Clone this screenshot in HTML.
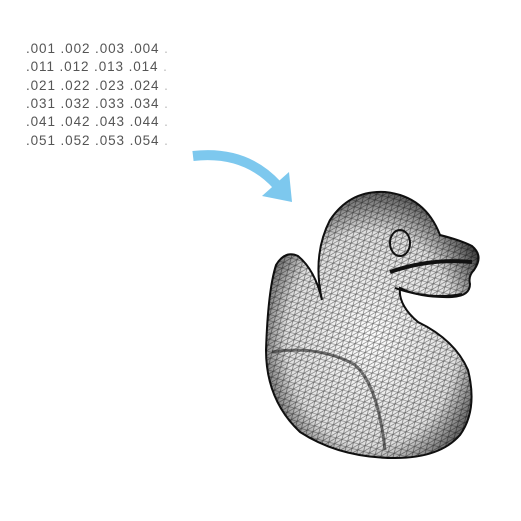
<!DOCTYPE html>
<html><head><meta charset="utf-8"><style>
body{margin:0;background:#fff;width:521px;height:521px;overflow:hidden;position:relative;font-family:"Liberation Sans",sans-serif}
.t{position:absolute;left:26px;font-size:13.5px;color:#555;letter-spacing:0.9px;white-space:pre}
</style></head><body>
<div>
<div class="t" style="top:41px">.001 .002 .003 .004 <span style="color:#bbb">.</span></div>
<div class="t" style="top:59px">.011 .012 .013 .014 <span style="color:#bbb">.</span></div>
<div class="t" style="top:78px">.021 .022 .023 .024 <span style="color:#bbb">.</span></div>
<div class="t" style="top:96px">.031 .032 .033 .034 <span style="color:#bbb">.</span></div>
<div class="t" style="top:114px">.041 .042 .043 .044 <span style="color:#bbb">.</span></div>
<div class="t" style="top:133px">.051 .052 .053 .054 <span style="color:#bbb">.</span></div>
</div>
<svg width="521" height="521" style="position:absolute;left:0;top:0">
<defs>
<pattern id="mesh" width="6" height="6" patternUnits="userSpaceOnUse" patternTransform="rotate(15)">
<path d="M0 0H6V6H0Z M0 6L6 0" fill="none" stroke="#000" stroke-width="0.6"/>
</pattern>
<radialGradient id="shade" cx="0.5" cy="0.55" r="0.62">
<stop offset="0" stop-color="#fff"/><stop offset="0.65" stop-color="#e0e0e0"/><stop offset="1" stop-color="#222"/>
</radialGradient>
<path id="duckp" d="M322 300 Q312 255 330 220 Q350 190 385 192 Q425 196 440 235 Q460 240 472 246 Q484 256 474 270 Q468 276 470 284 Q470 296 452 297 Q420 298 400 288 Q398 305 418 322 Q455 340 468 370 Q478 410 460 435 Q440 458 395 458 Q340 458 300 432 Q266 400 266 350 Q268 290 276 265 Q285 250 298 256 Q315 270 322 300 Z"/>
</defs>
<g>
<path d="M193 156 Q245 150 277 185" fill="none" stroke="#7dc8ee" stroke-width="10"/>
<polygon points="262,196 292,202 289,172" fill="#7dc8ee"/>
</g>
<g>
<use href="#duckp" fill="url(#shade)" stroke="#111" stroke-width="2"/>
<use href="#duckp" fill="url(#mesh)" opacity="0.6"/>
<ellipse cx="400" cy="243" rx="10" ry="13" fill="none" stroke="#111" stroke-width="2"/>
<path d="M390 272 Q430 258 472 262" fill="none" stroke="#111" stroke-width="4"/>
<path d="M395 288 Q430 300 462 294" fill="none" stroke="#111" stroke-width="2"/>
<path d="M272 352 Q320 345 355 365 Q378 385 385 450" fill="none" stroke="#222" stroke-width="3" opacity="0.6"/>
</g>
</svg>
</body></html>
